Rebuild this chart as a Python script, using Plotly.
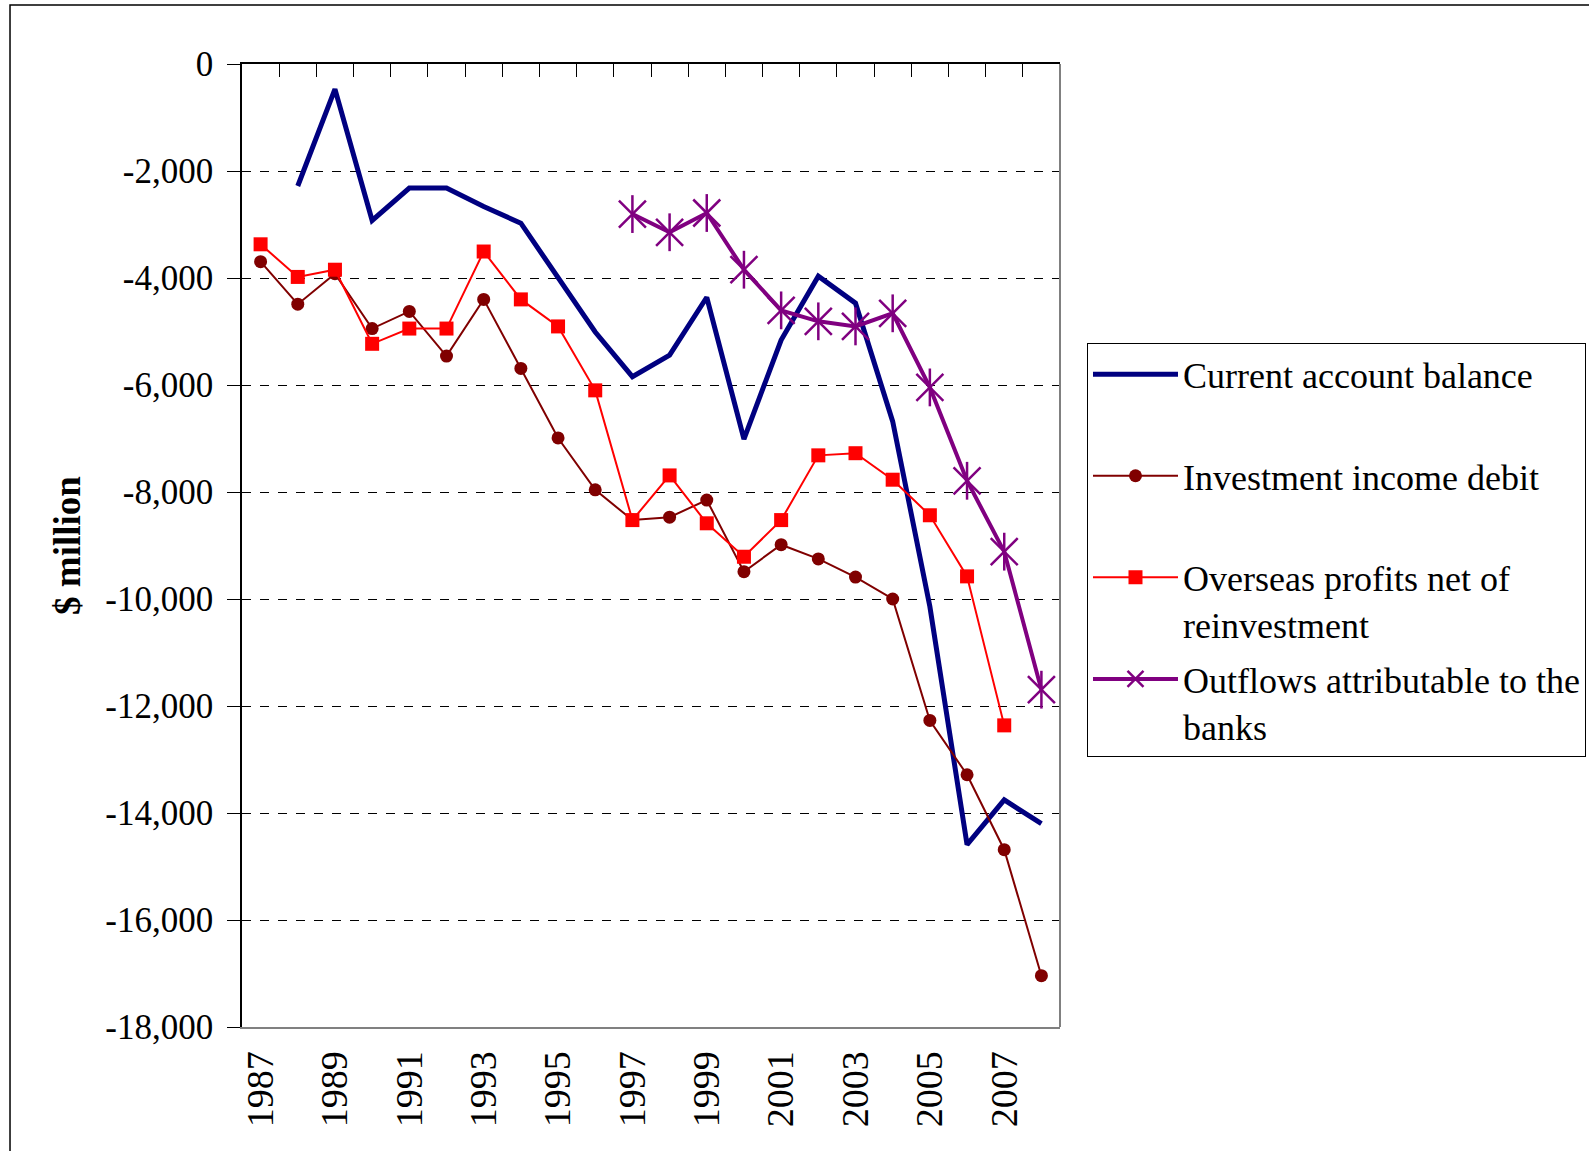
import plotly.graph_objects as go

years = list(range(1987, 2009))

current_account = [None, -2280, -470, -2925, -2320, -2320, -2665, -2975, -3990, -5010,
                   -5845, -5440, -4360, -7010, -5160, -3965, -4470, -6680, -10140,
                   -14590, -13755, -14200]
investment_income = [-3695, -4490, -3920, -4945, -4625, -5460, -4400, -5690, -6990, -7960,
                     -8525, -8470, -8150, -9490, -8985, -9250, -9590, -10000, -12270,
                     -13285, -14686, -17041]
overseas_profits = [-3370, -3980, -3845, -5230, -4945, -4945, -3505, -4400, -4905, -6100,
                    -8525, -7690, -8585, -9210, -8525, -7315, -7275, -7770, -8435,
                    -9577, -12362, None]
bank_outflows = [None] * 10 + [-2805, -3145, -2785, -3845, -4605, -4810, -4905, -4660,
                               -6045, -7790, -9115, -11695]

y_tick_vals = list(range(0, -18001, -2000))
y_tick_text = ["0", "-2,000", "-4,000", "-6,000", "-8,000", "-10,000", "-12,000",
               "-14,000", "-16,000", "-18,000"]
x_tick_vals = list(range(1987, 2008, 2))
x_tick_text = [str(y) for y in x_tick_vals]

FONT = "Liberation Serif"
PURPLE = "#800080"

fig = go.Figure()
fig.add_trace(go.Scatter(
    x=years, y=current_account, mode="lines", name="Current account balance<br>&nbsp;",
    line=dict(color="#000080", width=5), legendgroup="a"))
fig.add_trace(go.Scatter(
    x=years, y=investment_income, mode="lines+markers", name="Investment income debit<br>&nbsp;",
    line=dict(color="#800000", width=2),
    marker=dict(symbol="circle", size=13, color="#800000"), legendgroup="b"))
fig.add_trace(go.Scatter(
    x=years, y=overseas_profits, mode="lines+markers",
    name="Overseas profits net of<br>reinvestment",
    line=dict(color="#FF0000", width=2),
    marker=dict(symbol="square", size=14, color="#FF0000"), legendgroup="c"))
fig.add_trace(go.Scatter(
    x=years, y=bank_outflows, mode="lines+markers",
    name="Outflows attributable to the<br>banks",
    line=dict(color=PURPLE, width=4),
    marker=dict(symbol="x-thin-open", size=27, color=PURPLE,
                line=dict(color=PURPLE, width=2.5)),
    legendgroup="d"))
fig.add_trace(go.Scatter(
    x=years, y=bank_outflows, mode="markers", showlegend=False, hoverinfo="skip",
    marker=dict(symbol="line-ns-open", size=27, color=PURPLE,
                line=dict(color=PURPLE, width=2.5)),
    legendgroup="d"))
# invisible trace to activate top axis
fig.add_trace(go.Scatter(x=[1987], y=[None], xaxis="x2", showlegend=False,
                         hoverinfo="skip", mode="lines"))

fig.update_layout(
    width=1589, height=1151,
    margin=dict(l=242, r=529, t=64, b=124, autoexpand=False),
    paper_bgcolor="white", plot_bgcolor="white",
    font=dict(family=FONT, size=35, color="black"),
    showlegend=True,
    legend=dict(
        x=1.0330, y=0.71, xanchor="left", yanchor="top",
        bordercolor="black", borderwidth=1, bgcolor="white",
        font=dict(family=FONT, size=36, color="black"),
        valign="top", tracegroupgap=5, itemwidth=85,
    ),
    xaxis=dict(
        range=[1986.5, 2008.5], tickmode="array", tickvals=x_tick_vals,
        ticktext=x_tick_text, tickangle=-90, ticks="", showgrid=False,
        showline=True, linecolor="#808080", linewidth=2, zeroline=False,
        ticklabelstandoff=7,
        tickfont=dict(family=FONT, size=38),
    ),
    xaxis2=dict(
        range=[1986.5, 2008.5], overlaying="x", side="top", anchor="y",
        tickmode="array", tickvals=[y + 0.5 for y in years[:-1]],
        ticks="inside", ticklen=13, tickcolor="black", showticklabels=False,
        showgrid=False, showline=True, linecolor="black", linewidth=1.5,
        zeroline=False,
    ),
    yaxis=dict(
        range=[-18000, 0], tickmode="array", tickvals=y_tick_vals,
        ticktext=y_tick_text, ticks="outside", ticklen=13, tickcolor="black",
        ticklabelstandoff=7,
        showline=True, linecolor="black", linewidth=1.5, zeroline=False,
        showgrid=True, gridcolor="black", griddash="dash", gridwidth=1,
        tickfont=dict(family=FONT, size=35),
        title=dict(text="<b>$ million</b>", font=dict(family=FONT, size=37), standoff=13),
    ),
    shapes=[
        dict(type="line", xref="paper", yref="paper", x0=1, x1=1, y0=0, y1=1,
             line=dict(color="#808080", width=2)),
        dict(type="rect", xref="paper", yref="paper", x0=-0.2836, x1=1.66,
             y0=-0.3, y1=1.0613, line=dict(color="black", width=1.5),
             fillcolor="rgba(0,0,0,0)", layer="below"),
    ],
)

fig.write_html("out.html", config={"displayModeBar": False},
               post_script="document.body.style.margin='0';")
